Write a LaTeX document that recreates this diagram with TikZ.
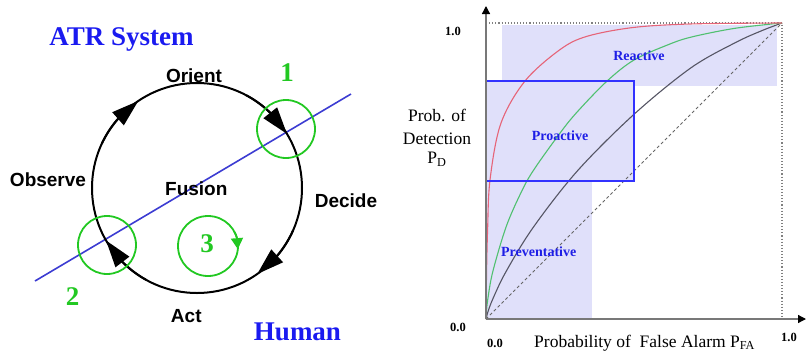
\documentclass[tikz,border=0pt]{standalone}
\usepackage{fontspec}
\setmainfont{Liberation Serif}
\newfontfamily\cycfont{Liberation Sans}
\usetikzlibrary{arrows.meta,bending}
\definecolor{atrblue}{RGB}{26,26,240}
\definecolor{lineblue}{RGB}{60,60,210}
\definecolor{ringgreen}{RGB}{34,200,34}
\definecolor{zoneshade}{RGB}{224,224,250}
\definecolor{boxblue}{RGB}{50,50,255}
\definecolor{zonetext}{RGB}{30,30,230}
\definecolor{rocred}{RGB}{230,100,120}
\definecolor{rocgreen}{RGB}{80,192,112}
\definecolor{rocgray}{RGB}{85,85,100}
\definecolor{axisgray}{RGB}{120,120,120}
\tikzset{
  cyclab/.style={font=\cycfont\bfseries\fontsize{19}{22}\selectfont, inner sep=0pt, anchor=base},
  bigblue/.style={font=\bfseries\fontsize{27}{30}\selectfont, text=atrblue, inner sep=0pt, anchor=base},
  grnnum/.style={font=\bfseries\fontsize{27}{30}\selectfont, text=ringgreen, inner sep=0pt, anchor=base},
  zonelab/.style={font=\bfseries\fontsize{14}{16}\selectfont, text=zonetext, inner sep=0pt, anchor=base},
  axlab/.style={font=\fontsize{17.5}{21}\selectfont, inner sep=0pt, anchor=base},
  ticklab/.style={font=\bfseries\fontsize{12.5}{14}\selectfont, inner sep=0pt, anchor=base},
  cycline/.style={line width=2pt, black},
  cyctip/.style={line width=2pt, black, -{Triangle[length=27pt,width=17pt]}},
  ring/.style={line width=1.8pt, ringgreen},
  roc/.style={line width=1.1pt},
  axisline/.style={line width=1.3pt, axisgray, -{Triangle[length=8pt,width=8pt,color=black]}},
  refline/.style={line width=1.1pt, gray, dotted},
  zonefill/.style={fill=zoneshade},
}
\begin{document}
\begin{tikzpicture}[x=1pt,y=-1pt]
\useasboundingbox (0,0) rectangle (807,360);

% ---------------- Left: OODA loop ----------------
\coordinate (c) at (197,188);
\coordinate (bl) at (35,281);
\coordinate (br) at (351,94);
\draw[line width=1.6pt, lineblue] (bl) -- (br);
\draw[cycline] (c) circle[radius=105];
\draw[cyctip] (c) ++(-155:105) arc[start angle=-155, end angle=-124, radius=105];
\draw[cyctip] (c) ++(-62:105) arc[start angle=-62, end angle=-31, radius=105];
\draw[cyctip] (c) ++(24:105) arc[start angle=24, end angle=55, radius=105];
\draw[cyctip] (c) ++(119:105) arc[start angle=119, end angle=150, radius=105];

\coordinate (g1) at (286,129);
\coordinate (g2) at (107,245);
\coordinate (g3) at (208,246);
\draw[ring] (g1) circle[radius=29];
\draw[ring] (g2) circle[radius=29];
\draw[ring] (g3) circle[radius=30];
\draw[ring, -{Triangle[length=11pt,width=12pt]}] (g3) ++(-28:30) arc[start angle=-28, end angle=6, radius=30];

\node[bigblue] (atr) at (121.5,45) {ATR System};
\node[bigblue] (human) at (297.5,340) {Human};
\node[grnnum] (n1) at (287,81.7) {1};
\node[grnnum] (n2) at (72.5,305) {2};
\node[grnnum] (n3) at (207,252.7) {3};
\node[cyclab] (orient) at (194,82.7) {Orient};
\node[cyclab] (observe) at (48,186.7) {Observe};
\node[cyclab] (fusion) at (196.3,195) {Fusion};
\node[cyclab] (decide) at (346,207.3) {Decide};
\node[cyclab] (act) at (186.3,322.3) {Act};

% ---------------- Right: ROC chart ----------------
\fill[zonefill] (502,25) rectangle (777,86);
\fill[zonefill] (486,177) rectangle (592,319);
\fill[zonefill] (486,81) rectangle (634,181);

\coordinate (o) at (486,319);
\coordinate (tl) at (486,23);
\coordinate (tr) at (782,23);
\coordinate (brc) at (782,319);
\draw[refline] (tl) -- (tr) -- (brc);
\draw[line width=0.9pt, gray!80!black, dash pattern=on 3pt off 2.5pt] (o) -- (tr);

\draw[roc, rocgray] plot[smooth, tension=0.55] coordinates {
 (486,319) (487.8,312.3) (492.7,299.2) (505.8,272.0) (533,227.7) (577.3,171)
 (634,114.3) (690.7,68) (735,42.8) (762.2,30.5) (782,23)};
\draw[roc, rocgreen] plot[smooth, tension=0.55] coordinates {
 (486,319) (486.4,312.3) (487.8,299.2) (492.7,272.0) (505.8,227.7) (520.1,194.5)
 (533,171) (560,133.1) (577.3,111.8) (607.1,81) (634,60) (666.9,45.2)
 (690.7,37.2) (735,28.3) (782,23)};
\draw[roc, rocred] plot[smooth, tension=0.55] coordinates {
 (486,319) (486.6,270) (487.6,230) (490,180) (500.8,123.6) (525,81)
 (560,49.6) (587,36.3) (634,27.4) (693,23.9) (782,23)};

\draw[line width=1.6pt, boxblue] (486,81) rectangle (634,181);

\coordinate (yend) at (486,6);
\coordinate (xend) at (806,319);
\draw[axisline] (o) -- (yend);
\draw[axisline] (o) -- (xend);

\node[zonelab] (reactive) at (639,60.5) {Reactive};
\node[zonelab] (proactive) at (560,140) {Proactive};
\node[zonelab] (preventative) at (538.7,256) {Preventative};

\node[axlab] (ylab1) at (437,121) {Prob. of};
\node[axlab] (ylab2) at (437,144) {Detection};
\node[axlab] (ylab3) at (437,163.5) {P\textsubscript{D}};
\node[axlab, anchor=base west] (xlab) at (534,347) {Probability of\enspace False Alarm P\textsubscript{FA}};

\node[ticklab] (t10a) at (453,35.7) {1.0};
\node[ticklab] (t00a) at (458,331) {0.0};
\node[ticklab] (t00b) at (495,347) {0.0};
\node[ticklab] (t10b) at (789,341) {1.0};
\end{tikzpicture}
\end{document}
